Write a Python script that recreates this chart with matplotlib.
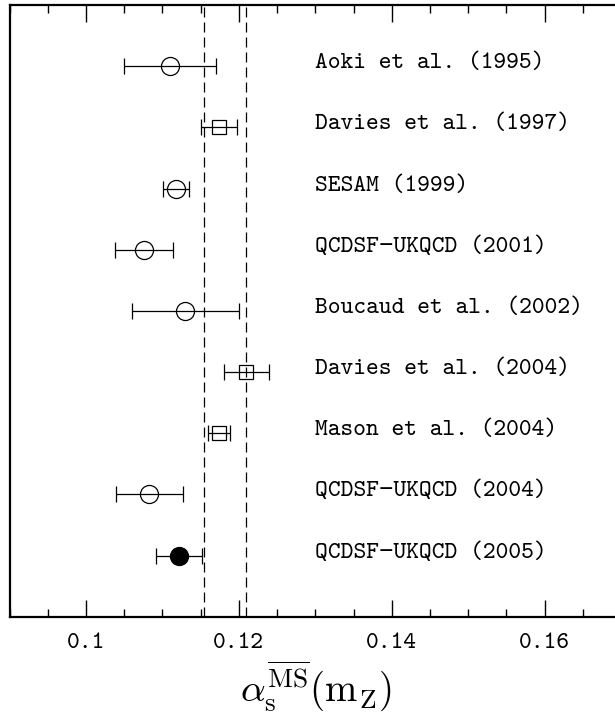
import matplotlib
matplotlib.use("Agg")
import matplotlib.pyplot as plt
from matplotlib.ticker import MultipleLocator

plt.rcParams["mathtext.fontset"] = "cm"

# measurements, top to bottom
labels = ["Aoki et al. (1995)", "Davies et al. (1997)", "SESAM (1999)",
          "QCDSF\u2212UKQCD (2001)", "Boucaud et al. (2002)", "Davies et al. (2004)",
          "Mason et al. (2004)", "QCDSF\u2212UKQCD (2004)", "QCDSF\u2212UKQCD (2005)"]
alpha = [0.1110, 0.1174, 0.1118, 0.1076, 0.1130, 0.1210, 0.1174, 0.1083, 0.1122]
err = [0.0060, 0.0024, 0.0017, 0.0038, 0.0070, 0.0030, 0.0014, 0.0044, 0.0030]
markers = ["o", "s", "o", "o", "o", "s", "s", "o", "o"]
filled = [False, False, False, False, False, False, False, False, True]

# band of the world average
band = [0.1154, 0.1209]

tt = ["cmtt10", "Liberation Mono", "DejaVu Sans"]

fig = plt.figure(figsize=(6.15, 7.13), dpi=100)
ax = fig.add_axes([9.5 / 615, 1 - 616.7 / 713, 611.6 / 615, 611.7 / 713])

n = len(labels)
for i in range(n):
    y = n - i
    ms = 13 if markers[i] == "o" else 9.5
    ax.errorbar(alpha[i], y, xerr=err[i], fmt=markers[i], ms=ms,
                mfc="black" if filled[i] else "none", mec="black", mew=0.9,
                ecolor="black", elinewidth=0.9, capsize=6, capthick=0.9)
    ax.text(0.13, y + 0.04, labels[i], fontsize=17.5, family=tt, va="center", ha="left")

for b in band:
    ax.axvline(b, color="black", lw=0.9, ls=(0, (8, 4)))

ax.set_xlim(0.09, 0.17)
ax.set_ylim(0, n + 1)
ax.set_yticks([])
ax.xaxis.set_major_locator(MultipleLocator(0.02))
ax.xaxis.set_minor_locator(MultipleLocator(0.005))
ax.set_xticks([0.1, 0.12, 0.14, 0.16])
ax.set_xticklabels(["0.1", "0.12", "0.14", "0.16"], family=tt, fontsize=17.5)
ax.tick_params(axis="x", which="both", direction="in", top=True, width=1.0, pad=12)
ax.tick_params(axis="x", which="major", length=12)
ax.tick_params(axis="x", which="minor", length=6)
for s in ax.spines.values():
    s.set_linewidth(1.6)

ax.set_xlabel(r"$\alpha_{\rm s}^{\overline{\rm MS}}(\rm m_Z)$", fontsize=28, labelpad=3)

fig.savefig("out.png", dpi=100)
